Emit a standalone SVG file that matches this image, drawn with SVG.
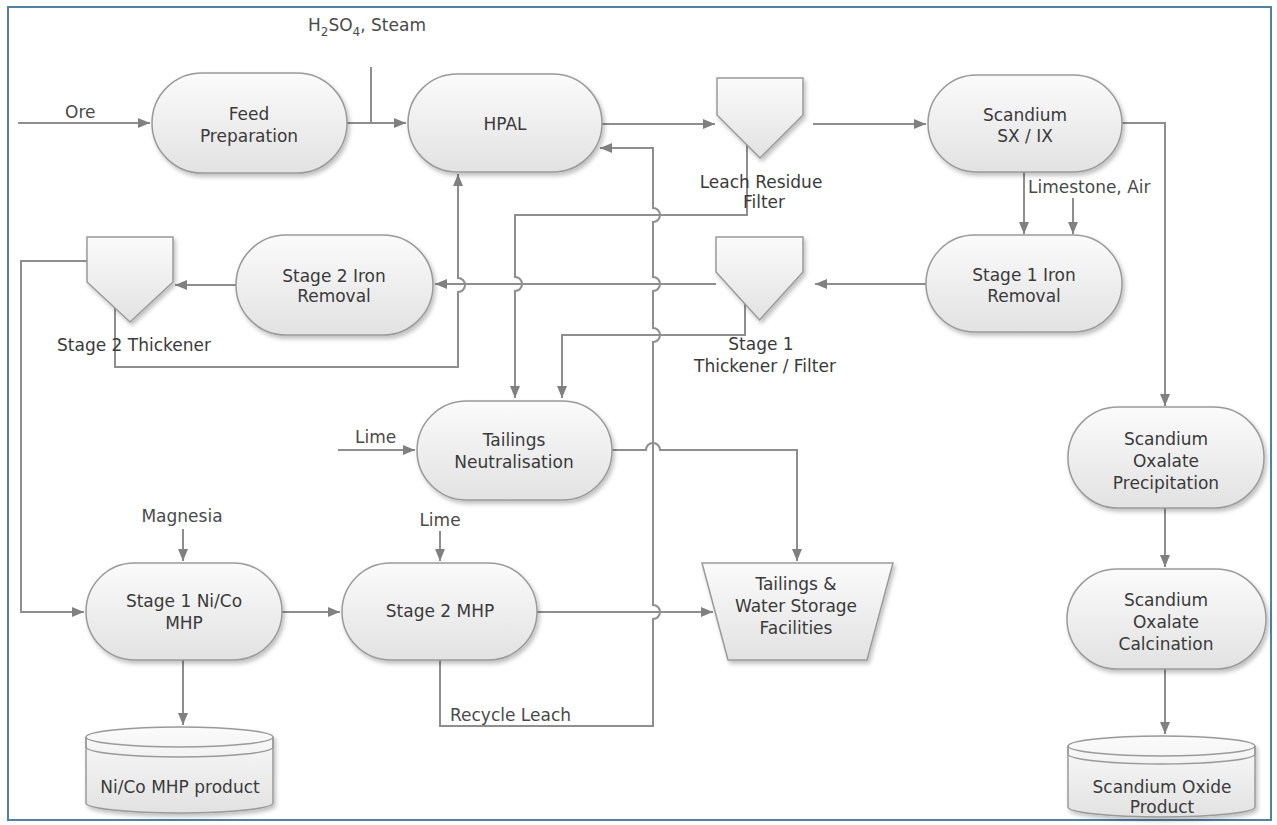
<svg xmlns="http://www.w3.org/2000/svg" width="1277" height="825" viewBox="0 0 1277 825">
<style>
.t{font-family:"DejaVu Sans",Verdana,sans-serif;font-size:17px;fill:#3a3a3a;text-anchor:middle}
.s{font-family:"DejaVu Sans",Verdana,sans-serif;font-size:17px;fill:#4a4a4a}
.shape{fill:url(#g);stroke:#9a9a9a;stroke-width:1.5;filter:url(#sh)}
.ln{fill:none;stroke:#8e8e8e;stroke-width:2}
.ar{marker-end:url(#a)}
</style>
<defs>
<linearGradient id="g" x1="0" y1="0" x2="0" y2="1">
<stop offset="0" stop-color="#fbfbfb"/>
<stop offset="1" stop-color="#e2e2e2"/>
</linearGradient>
<filter id="sh" x="-10%" y="-10%" width="125%" height="130%">
<feDropShadow dx="2" dy="3" stdDeviation="2" flood-color="#000" flood-opacity="0.25"/>
</filter>
<marker id="a" viewBox="0 0 12 10" markerWidth="12" markerHeight="10" refX="12" refY="5" orient="auto" markerUnits="userSpaceOnUse">
<path d="M0,0 L12,5 L0,10 z" fill="#808080"/>
</marker>
</defs>
<rect x="0" y="0" width="1277" height="825" fill="#ffffff"/>
<rect x="8" y="7" width="1263" height="813" fill="none" stroke="#4f82a3" stroke-width="2"/>

<g id="connectors">
<path class="ln ar" d="M18,123 H150"/>
<path class="ln ar" d="M347,123 H406"/>
<path class="ln" d="M371,67 V123"/>
<path class="ln ar" d="M602,124 H715"/>
<path class="ln ar" d="M813,124 H926"/>
<path class="ln ar" d="M1122,123 H1165 V406"/>
<path class="ln ar" d="M1024,172 V234"/>
<path class="ln ar" d="M1073,198 V234"/>
<path class="ln ar" d="M926,284 H815"/>
<path class="ln ar" d="M716,284 H435"/>
<path class="ln ar" d="M236,285 H175"/>
<path class="ln ar" d="M87,261 H21 V612 H84"/>
<path class="ln ar" d="M115,308 V367 H458 V292 A7,7 0 0 0 458,278 V174"/>
<path class="ln ar" d="M747,145 V215 H515 V277 A7,7 0 0 1 515,291 V398"/>
<path class="ln ar" d="M745,303 V335 H562 V398"/>
<path class="ln ar" d="M338,450 H415"/>
<path class="ln ar" d="M612,450 H646 A7,7 0 0 1 660,450 H797 V561"/>
<path class="ln ar" d="M183,529 V561"/>
<path class="ln ar" d="M183,660 V725"/>
<path class="ln ar" d="M282,612 H340"/>
<path class="ln ar" d="M440,531 V561"/>
<path class="ln ar" d="M537,612 H713"/>
<path class="ln ar" d="M440,660 V726 H653 V619 A7,7 0 0 0 653,605 V342 A7,7 0 0 0 653,328 V291 A7,7 0 0 0 653,277 V222 A7,7 0 0 0 653,208 V148 H600"/>
<path class="ln ar" d="M1165,508 V567"/>
<path class="ln ar" d="M1165,669 V734"/>
</g>

<g id="labels">
<text class="s" x="65" y="118">Ore</text>
<text class="s" x="308" y="31">H<tspan font-size="12" dy="5">2</tspan><tspan dy="-5">SO</tspan><tspan font-size="12" dy="5">4</tspan><tspan dy="-5">, Steam</tspan></text>
<text class="s" x="1028" y="193">Limestone, Air</text>
<text class="s" x="355" y="443">Lime</text>
<text class="s" x="182" y="522" text-anchor="middle">Magnesia</text>
<text class="s" x="440" y="526" text-anchor="middle">Lime</text>
<text class="s" x="450" y="721">Recycle Leach</text>
</g>

<g id="feed-preparation">
<rect class="shape" x="152" y="73" width="195" height="100" rx="50"/>
<text class="t" x="249" y="120">Feed</text>
<text class="t" x="249" y="142">Preparation</text>
</g>
<g id="hpal">
<rect class="shape" x="408" y="74" width="194" height="98" rx="49"/>
<text class="t" x="505" y="130">HPAL</text>
</g>
<g id="leach-residue-filter">
<polygon class="shape" points="717,78 803,78 803,115 760,158 717,115"/>
<text class="t" x="761" y="188">Leach Residue</text>
<text class="t" x="764" y="208">Filter</text>
</g>
<g id="scandium-sx-ix">
<rect class="shape" x="928" y="75" width="194" height="97" rx="48.5"/>
<text class="t" x="1025" y="121">Scandium</text>
<text class="t" x="1025" y="142">SX / IX</text>
</g>
<g id="stage1-iron-removal">
<rect class="shape" x="926" y="235" width="196" height="97" rx="48.5"/>
<text class="t" x="1024" y="281">Stage 1 Iron</text>
<text class="t" x="1024" y="302">Removal</text>
</g>
<g id="stage1-thickener">
<polygon class="shape" points="716,237 803,237 803,272 759.5,320 716,272"/>
<text class="t" x="761" y="350">Stage 1</text>
<text class="t" x="765" y="372">Thickener / Filter</text>
</g>
<g id="stage2-iron-removal">
<rect class="shape" x="236" y="235" width="197" height="100" rx="50"/>
<text class="t" x="334" y="282">Stage 2 Iron</text>
<text class="t" x="334" y="302">Removal</text>
</g>
<g id="stage2-thickener">
<polygon class="shape" points="87,237 173,237 173,282 130,322 87,282"/>
<text class="t" x="134" y="351">Stage 2 Thickener</text>
</g>
<g id="tailings-neutralisation">
<rect class="shape" x="417" y="401" width="195" height="99" rx="49.5"/>
<text class="t" x="514" y="446">Tailings</text>
<text class="t" x="514" y="468">Neutralisation</text>
</g>
<g id="stage1-mhp">
<rect class="shape" x="86" y="563" width="196" height="97" rx="48.5"/>
<text class="t" x="184" y="607">Stage 1 Ni/Co</text>
<text class="t" x="184" y="629">MHP</text>
</g>
<g id="stage2-mhp">
<rect class="shape" x="342" y="563" width="195" height="97" rx="48.5"/>
<text class="t" x="440" y="617">Stage 2 MHP</text>
</g>
<g id="tailings-water-storage">
<polygon class="shape" points="702,563 893,563 867,660 728,660"/>
<text class="t" x="796" y="590">Tailings &amp;</text>
<text class="t" x="796" y="612">Water Storage</text>
<text class="t" x="796" y="634">Facilities</text>
</g>
<g id="nico-mhp-product">
<path class="shape" d="M86,737 V803 A93.5,10 0 0 0 273,803 V737 A93.5,10 0 0 0 86,737 Z"/>
<path d="M86,737 A93.5,10 0 0 0 273,737 M86,737 V747 A93.5,10 0 0 0 273,747 V737" fill="none" stroke="#9a9a9a" stroke-width="1.5"/>
<text class="t" x="180" y="793">Ni/Co MHP product</text>
</g>
<g id="scandium-oxalate-precipitation">
<rect class="shape" x="1068" y="407" width="196" height="101" rx="50"/>
<text class="t" x="1166" y="445">Scandium</text>
<text class="t" x="1166" y="467">Oxalate</text>
<text class="t" x="1166" y="489">Precipitation</text>
</g>
<g id="scandium-oxalate-calcination">
<rect class="shape" x="1067" y="569" width="199" height="100" rx="50"/>
<text class="t" x="1166" y="606">Scandium</text>
<text class="t" x="1166" y="628">Oxalate</text>
<text class="t" x="1166" y="650">Calcination</text>
</g>
<g id="scandium-oxide-product">
<path class="shape" d="M1068,746 V807 A93.5,10 0 0 0 1255,807 V746 A93.5,10 0 0 0 1068,746 Z"/>
<path d="M1068,746 A93.5,10 0 0 0 1255,746 M1068,746 V754 A93.5,10 0 0 0 1255,754 V746" fill="none" stroke="#9a9a9a" stroke-width="1.5"/>
<text class="t" x="1162" y="793">Scandium Oxide</text>
<text class="t" x="1162" y="813">Product</text>
</g>
</svg>
